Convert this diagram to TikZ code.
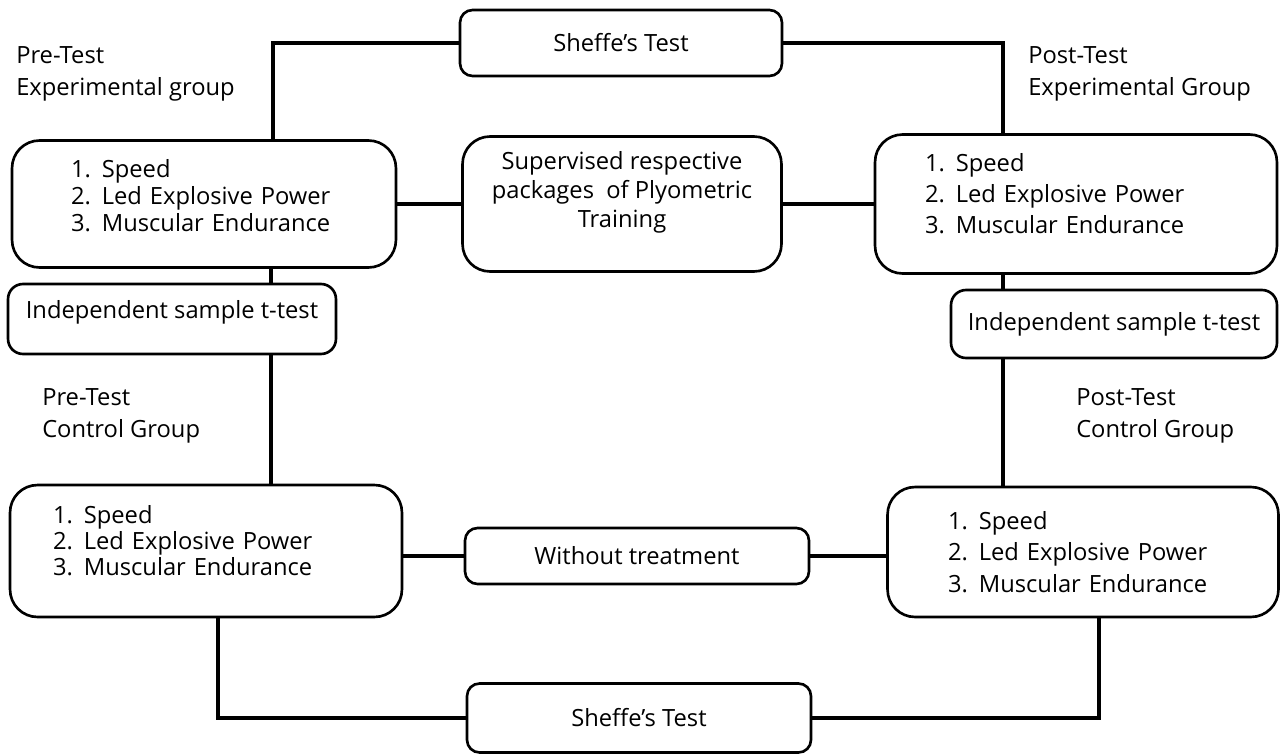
\documentclass[tikz,border=0pt]{standalone}
\usepackage{fontspec}
\setmainfont{Open Sans}

\begin{document}
\begin{tikzpicture}[x=0.02cm, y=-0.02cm,
  box/.style={draw, line width=1.5pt, rounded corners=0.55cm, align=center},
  itembox/.style={box, align=left},
  link/.style={line width=2.2pt},
  grouplabel/.style={anchor=west, align=left, font=\fontsize{13.5}{18}\selectfont}]

\useasboundingbox (0,0) rectangle (1281,754);
\fontsize{13.5}{16.5}\selectfont

% Top Sheffe box
\node[box, rounded corners=0.25cm, minimum width=6.44cm, minimum height=1.32cm] (sheffetop) at (621,43) {Sheffe’s Test};

% Experimental group, pre and post
\node[itembox, text width=5.32cm, minimum width=7.68cm, minimum height=2.54cm, font=\fontsize{13.5}{15.3}\selectfont] (preexp) at (204,204) {\makebox[1.3em][l]{1.}Speed\\\makebox[1.3em][l]{2.}Led Explosive Power\\\makebox[1.3em][l]{3.}Muscular Endurance\\[-6pt]\mbox{}};
\node[box, minimum width=6.38cm, minimum height=2.7cm] (supervised) at (622,204) {Supervised respective\\packages\ \ of Plyometric\\Training\\\mbox{}};
\node[itembox, text width=6.04cm, minimum width=8.04cm, minimum height=2.78cm, font=\fontsize{13.5}{17.6}\selectfont] (postexp) at (1076,204) {\makebox[1.3em][l]{1.}Speed\\\makebox[1.3em][l]{2.}Led Explosive Power\\\makebox[1.3em][l]{3.}Muscular Endurance\\[-6pt]\mbox{}};

% t-tests
\node[box, rounded corners=0.3cm, minimum width=6.56cm, minimum height=1.4cm] (ttestL) at (172,319) {Independent sample t-test\\[-6pt]\mbox{}};
\node[box, rounded corners=0.3cm, minimum width=6.52cm, minimum height=1.36cm] (ttestR) at (1114,324) {Independent sample t-test};

% Control group, pre and post
\node[itembox, text width=6.12cm, minimum width=7.84cm, minimum height=2.64cm, font=\fontsize{13.5}{15}\selectfont] (prectl) at (206,551) {\makebox[1.3em][l]{1.}Speed\\\makebox[1.3em][l]{2.}Led Explosive Power\\\makebox[1.3em][l]{3.}Muscular Endurance\\[-3pt]\mbox{}};
\node[box, rounded corners=0.25cm, minimum width=6.88cm, minimum height=1.12cm] (without) at (637,556) {Without treatment};
\node[itembox, text width=5.4cm, minimum width=7.82cm, minimum height=2.6cm, font=\fontsize{13.5}{18}\selectfont] (postctl) at (1083,552) {\makebox[1.3em][l]{1.}Speed\\\makebox[1.3em][l]{2.}Led Explosive Power\\\makebox[1.3em][l]{3.}Muscular Endurance};

% Bottom Sheffe box
\node[box, rounded corners=0.25cm, minimum width=6.88cm, minimum height=1.38cm] (sheffebot) at (639,718) {Sheffe’s Test};

% Group labels
\node[grouplabel] (lblpreexp) at (8,74) {Pre-Test\\Experimental group};
\node[grouplabel] (lblpostexp) at (1020,74) {Post-Test\\Experimental Group};
\node[grouplabel] (lblprectl) at (34,416) {Pre-Test\\Control Group};
\node[grouplabel] (lblpostctl) at (1068,416) {Post-Test\\Control Group};

% Connectors
\draw[link] (preexp.north -| 273,0) |- (sheffetop.west);
\draw[link] (sheffetop.east) -| (postexp.north -| 1003,0);
\draw[link] (preexp.east) -- (supervised.west);
\draw[link] (supervised.east) -- (postexp.west);
\draw[link] (preexp.south -| 271,0) -- (ttestL.north -| 271,0);
\draw[link] (ttestL.south -| 271,0) -- (prectl.north -| 271,0);
\draw[link] (postexp.south -| 1003,0) -- (ttestR.north -| 1003,0);
\draw[link] (ttestR.south -| 1003,0) -- (postctl.north -| 1003,0);
\draw[link] (prectl.east |- without.west) -- (without.west);
\draw[link] (without.east) -- (postctl.west |- without.east);
\draw[link] (prectl.south -| 218,0) |- (sheffebot.west);
\draw[link] (sheffebot.east) -| (postctl.south -| 1099,0);

\end{tikzpicture}
\end{document}
